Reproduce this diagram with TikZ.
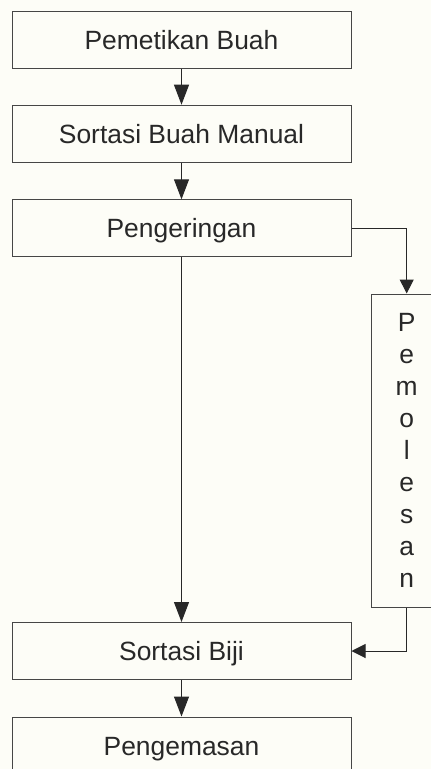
\documentclass[tikz,border=0pt]{standalone}
\usepackage{fontspec}
\setmainfont{Liberation Sans}
\usetikzlibrary{arrows.meta}
\definecolor{paper}{RGB}{253,253,247}
\definecolor{ink}{RGB}{40,40,40}
\definecolor{edge}{RGB}{70,70,70}
\tikzset{
  stepbox/.style={draw=edge, line width=1pt, rectangle, inner sep=0pt,
    minimum width=339pt, minimum height=57pt,
    font=\fontsize{26.4}{31.9}\selectfont, text=ink,
    text height=19pt, text depth=0pt},
  sidebox/.style={draw=edge, line width=1pt, rectangle, inner sep=0pt,
    minimum width=71pt, minimum height=313pt, align=center,
    font=\fontsize{26.4}{31.9}\selectfont, text=ink},
  flow/.style={draw=ink, line width=1pt,
    -{Triangle[length=20pt,width=15pt]}},
  sideflow/.style={draw=ink, line width=1pt,
    -{Triangle[length=14pt,width=14pt]}}
}
\begin{document}
\begin{tikzpicture}[x=1pt,y=-1pt]
  \useasboundingbox (0,0) rectangle (431,769);
  \clip (0,0) rectangle (431,769);
  \fill[paper] (0,0) rectangle (431,769);

  % main column of process steps
  \node[stepbox] (petik)   at (181.5, 40.2)  {Pemetikan Buah};
  \node[stepbox] (sortbuah) at (181.5, 133.7) {Sortasi Buah Manual};
  \node[stepbox] (kering)  at (181.5, 228.3) {Pengeringan};
  \node[stepbox] (sortbiji) at (181.5, 651)   {Sortasi Biji};
  \node[stepbox] (kemas)   at (181.5, 745.5) {Pengemasan};

  % optional polishing step, set letter by letter
  \node[sidebox] (poles) at (406.7, 450.5) {P\\e\\m\\o\\l\\e\\s\\a\\n};

  % connectors
  \draw[flow] (petik) -- (sortbuah);
  \draw[flow] (sortbuah) -- (kering);
  \draw[flow] (kering) -- (sortbiji);
  \draw[flow] (sortbiji) -- (kemas);
  \draw[sideflow] (kering.east) -| (poles.north);
  \draw[sideflow] (poles.south) |- (sortbiji.east);
\end{tikzpicture}
\end{document}
